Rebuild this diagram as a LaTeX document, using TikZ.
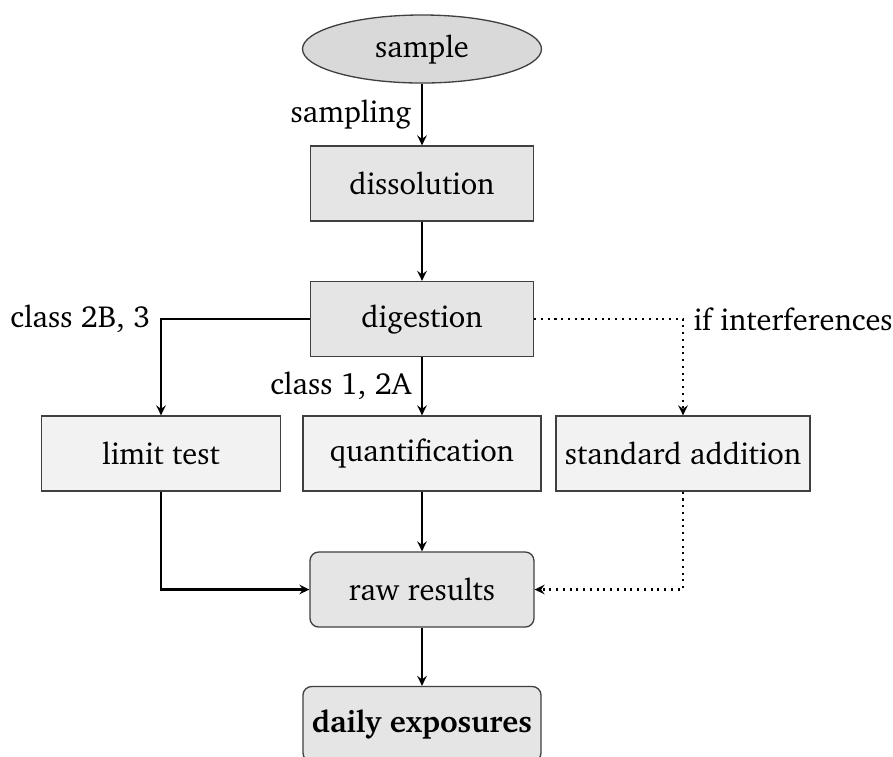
\documentclass[tikz,border=0pt]{standalone}
\usepackage[T1]{fontenc}
\usepackage{charter}
\usetikzlibrary{shapes.geometric,arrows.meta}
\tikzset{
  base/.style={draw=black!75, line width=0.45pt, inner sep=0pt, font=\fontsize{10.4}{12}\selectfont, text=black},
  boxA/.style={base, rectangle, fill=gray!20, minimum height=25.6pt},
  boxB/.style={base, rectangle, fill=gray!10, minimum height=25.6pt},
  roundbox/.style={boxA, rounded corners=3pt},
  oval/.style={base, ellipse, fill=gray!30, minimum width=81.5pt, minimum height=23.2pt},
  arr/.style={line width=0.7pt, -{Stealth[length=3.4pt,width=3.3pt,inset=1.2pt]}},
  dotarr/.style={arr, dash pattern=on 0.7pt off 1.6pt},
  lbl/.style={font=\fontsize{10.4}{12}\selectfont, inner sep=3.3pt}
}
\begin{document}
\begin{tikzpicture}[x=0.341pt, y=-0.341pt]
\useasboundingbox (0,0) rectangle (893,756);
\node[oval] (sample) at (422,49) {sample};
\node[boxA, minimum width=76.1pt] (diss) at (422,183.5) {dissolution};
\node[boxA, minimum width=76.1pt] (dig) at (422,319) {digestion};
\node[boxB, minimum width=81.5pt] (limit) at (161,453.5) {limit test};
\node[boxB, minimum width=81.2pt] (quant) at (422,453.5) {quantification};
\node[boxB, minimum width=86.6pt] (std) at (683,453.5) {standard addition};
\node[roundbox, minimum width=76.4pt] (raw) at (422,589.5) {raw results};
\node[roundbox, minimum width=81.2pt] (daily) at (422,724) {\bfseries daily exposures};

\draw[arr] (sample) -- node[lbl, left] {sampling} (diss);
\draw[arr] (diss) -- (dig);
\draw[arr] (dig.west) -| node[lbl, pos=0.5, left] {class 2B, 3} (limit.north);
\draw[arr] (dig) -- node[lbl, left] {class 1, 2A} (quant);
\draw[dotarr] (dig.east) -| node[lbl, pos=0.5, right] {if interferences} (std.north);
\draw[arr] (limit.south) |- (raw.west);
\draw[arr] (quant) -- (raw);
\draw[dotarr] (std.south) |- (raw.east);
\draw[arr] (raw) -- (daily);
\end{tikzpicture}
\end{document}
